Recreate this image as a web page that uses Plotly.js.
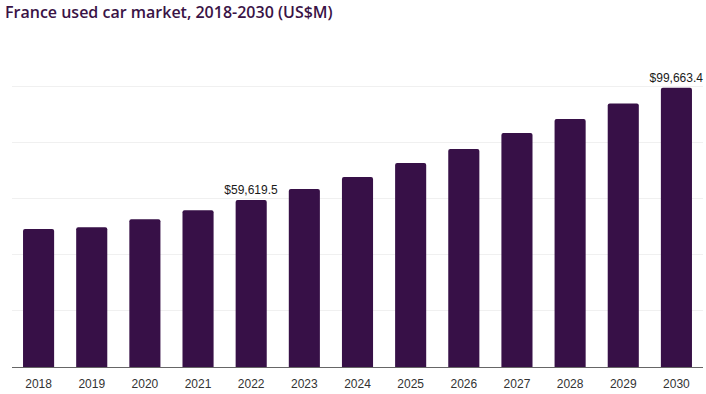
<!DOCTYPE html>
<html><head><meta charset="utf-8">
<script src="https://cdn.plot.ly/plotly-3.0.1.min.js"></script>
<style>html,body{margin:0;padding:0;background:#fff}#chart{width:706px;height:394px}</style>
</head><body><div id="chart"></div>
<script>
const years = ['2018','2019','2020','2021','2022','2023','2024','2025','2026','2027','2028','2029','2030'];
const values = [49280, 49890, 52730, 55950, 59619.5, 63570, 67850, 72850, 77850, 83570, 88570, 94040, 99663.4];
const labels = ['', '', '', '', '$59,619.5', '', '', '', '', '', '', '', '$99,663.4'];

Plotly.newPlot('chart', [{
  type: 'bar',
  x: years,
  y: values,
  text: labels,
  textposition: 'outside',
  constraintext: 'none',
  cliponaxis: false,
  textfont: {family: 'Liberation Sans, Arial, sans-serif', size: 12, color: '#1a1a1a'},
  marker: {color: '#371047', cornerradius: 2},
  hoverinfo: 'none'
}], {
  width: 706, height: 394,
  margin: {l: 12, r: 3, t: 30, b: 27},
  paper_bgcolor: '#fff', plot_bgcolor: '#fff',
  bargap: 0.415,
  title: {text: 'France used car market, 2018-2030 (US$M)', xref: 'container', yref: 'container', x: 5/706, xanchor: 'left', y: 1 - 12/394, yanchor: 'middle',
    font: {family: 'Open Sans, sans-serif', size: 16, color: '#3a1346', weight: 600}},
  xaxis: {type: 'category', showgrid: false, showline: true, linecolor: '#666', linewidth: 1, ticks: '', ticklabelstandoff: 6,
    tickfont: {family: 'Liberation Sans, Arial, sans-serif', size: 12, color: '#333'}},
  yaxis: {range: [0, 120300], tickvals: [20000, 40000, 60000, 80000, 100000, 120000], showticklabels: false, gridcolor: '#f0f0f0', zeroline: false, fixedrange: true},
  showlegend: false
}, {displayModeBar: false, staticPlot: true});
</script></body></html>
